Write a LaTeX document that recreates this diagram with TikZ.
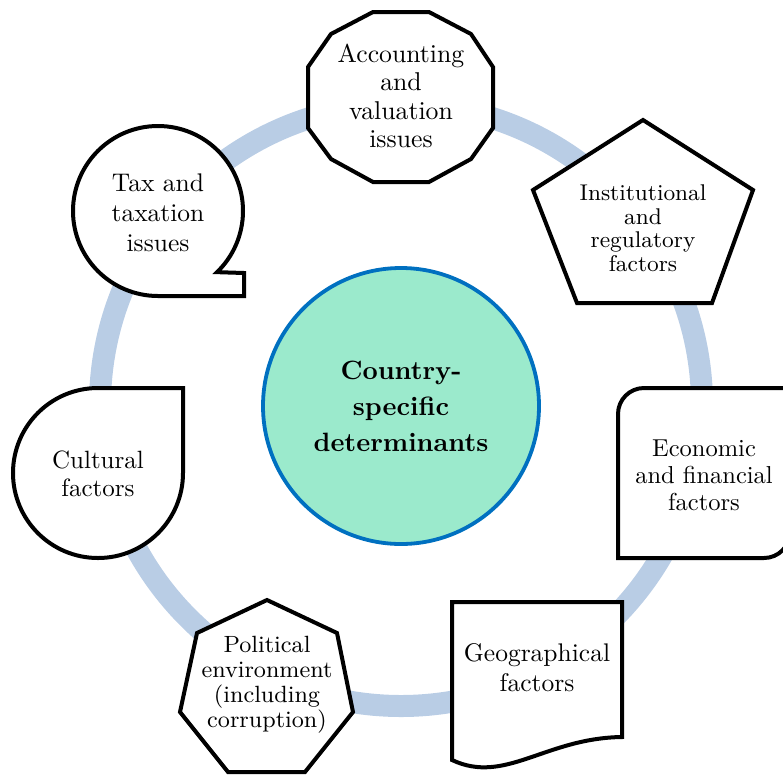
\documentclass[tikz,border=0pt]{standalone}
\usepackage{xcolor}
\usepackage{tikz}

\definecolor{ringblue}{RGB}{185,205,229}
\definecolor{coremint}{RGB}{155,234,204}
\definecolor{coreblue}{RGB}{0,112,192}

\begin{document}
\begin{tikzpicture}[x=1pt, y=1pt,
        factor/.style={draw=black, line width=4pt, fill=white},
        lbl/.style={align=center, inner sep=0pt, scale=2.5}]
    \useasboundingbox (0,0) rectangle (783,-774);
    \clip (0,0) rectangle (783,-774);

    % Ring
    \draw[ringblue, line width=22pt] (401,-405) circle (301);

    % Centre
    \node[circle, draw=coreblue, fill=coremint, line width=3.8pt, scale=2.5, minimum size=110.4pt, inner sep=0pt,
          align=center, font=\fontsize{10.6}{14.4}\selectfont\bfseries] (core) at (401,-406) {Country-\\specific\\determinants};

    % Shapes
    \draw[factor] (373,-12) -- (429,-12) -- (471,-34) -- (493,-67) -- (493,-128) -- (471,-159)
        -- (429,-182) -- (373,-182) -- (331,-159) -- (308,-128) -- (308,-67) -- (331,-34) -- cycle;
    \draw[factor] (643,-120) -- (753,-190) -- (712,-303) -- (577,-303) -- (533,-190) -- cycle;
    \draw[factor] (158,-296) arc[start angle=-90, end angle=-406, radius=85] -- (244,-273) -- (244,-296) -- cycle;
    \draw[factor] (618,-558) -- (618,-414) arc[start angle=180, end angle=90, radius=26] -- (790,-388)
        -- (790,-532) arc[start angle=0, end angle=-90, radius=26] -- cycle;
    \draw[factor] (183,-473) -- (183,-388) -- (98,-388) arc[start angle=90, end angle=360, radius=85] -- cycle;
    \draw[factor] (452,-602) -- (622,-602) -- (622,-737) .. controls (545,-738) and (505,-785) .. (452,-760) -- cycle;
    \draw[factor] (267,-600) -- (337,-633) -- (353,-712) -- (305,-772) -- (228,-772) -- (180,-712) -- (197,-633) -- cycle;

    % Labels
    \node[lbl, font=\fontsize{10.3}{11.4}\selectfont] (acct) at (401,-96) {Accounting\\and\\valuation\\issues};
    \node[lbl, font=\fontsize{9.1}{9.4}\selectfont] (inst) at (643,-228) {Institutional\\and\\regulatory\\factors};
    \node[lbl, font=\fontsize{10.2}{12}\selectfont] (tax) at (158,-213) {Tax and\\taxation\\issues};
    \node[lbl, font=\fontsize{9.8}{10.8}\selectfont] (econ) at (704,-475) {Economic\\and financial\\factors};
    \node[lbl, font=\fontsize{10}{11.2}\selectfont] (cult) at (98,-474) {Cultural\\factors};
    \node[lbl, font=\fontsize{10.2}{12}\selectfont] (geo) at (537,-668) {Geographical\\factors};
    \node[lbl, font=\fontsize{9.4}{10}\selectfont] (pol) at (267,-685) {Political\\environment\\(including\\corruption)};
\end{tikzpicture}
\end{document}
